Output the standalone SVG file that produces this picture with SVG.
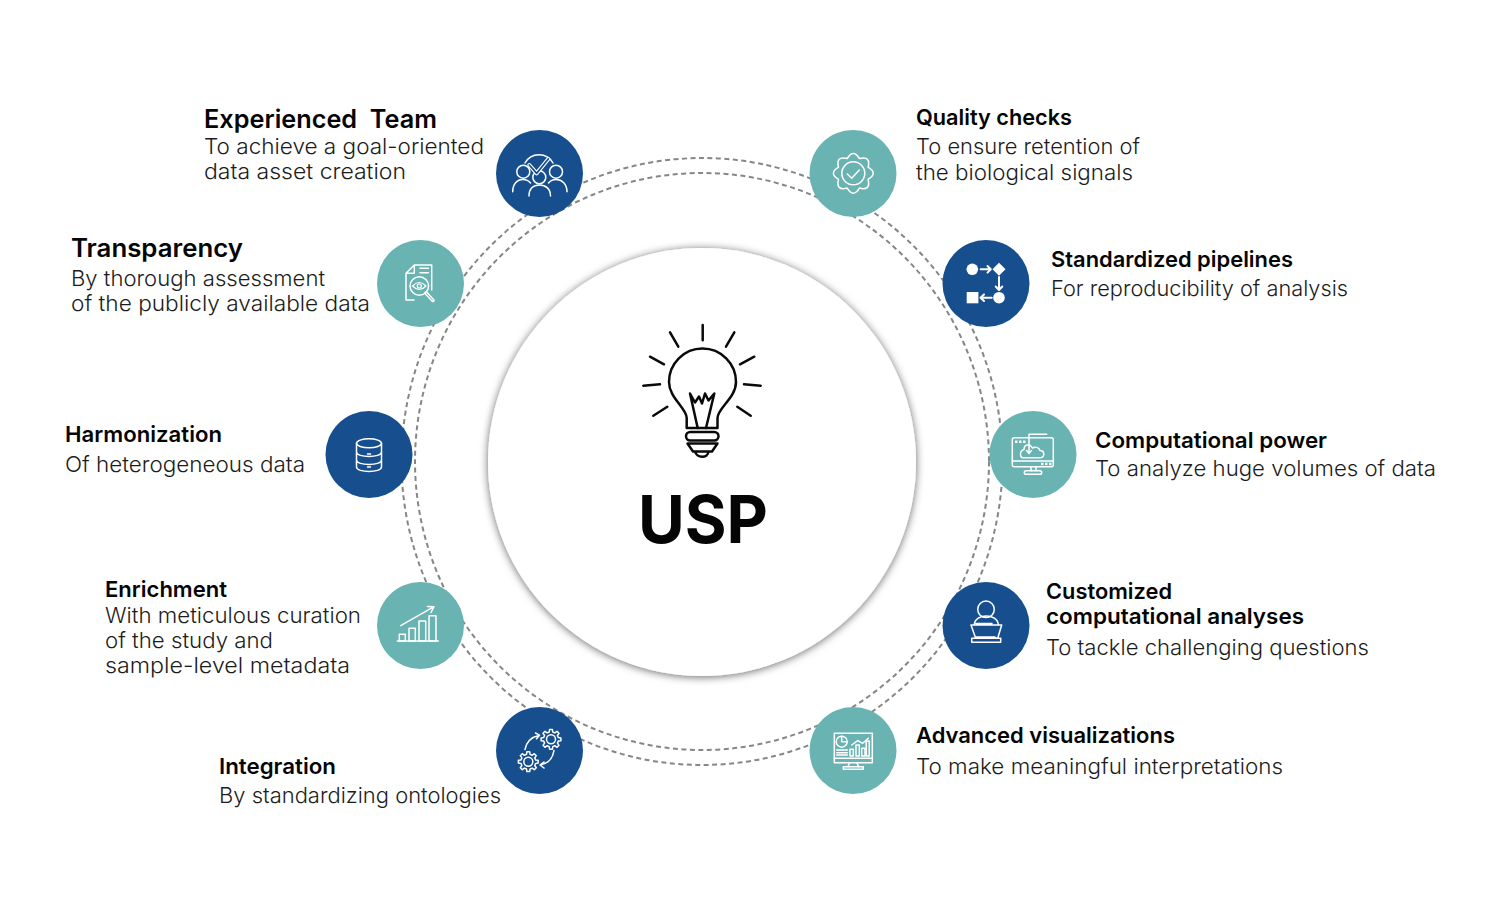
<svg xmlns="http://www.w3.org/2000/svg" width="1500" height="920" viewBox="0 0 1500 920">
<style>
.h{font-family:"Inter","Liberation Sans",sans-serif;font-weight:600;fill:#050505}
.b{font-family:"Inter","Liberation Sans",sans-serif;font-weight:300;fill:#1c1c1c;font-size:22px}
.f22{font-size:22px}.f25{font-size:25px}
.ring{fill:none;stroke:#868686;stroke-width:2;stroke-dasharray:5 3.500}
.blue{fill:#174f8e}
.teal{fill:#69b3b2}
.i{fill:none;stroke:#fff;stroke-width:1.500;stroke-linecap:round;stroke-linejoin:round}
.s{fill:#fff}
.bulb{fill:none;stroke:#0a0a0a;stroke-width:2.500;stroke-linecap:round;stroke-linejoin:round}
</style>
<defs>
<filter id="sh" x="-20%" y="-20%" width="140%" height="140%"><feDropShadow dx="0" dy="1" stdDeviation="4" flood-color="#000" flood-opacity=".6"/></filter>
<path id="gear" d="M7.28,-1.81L9.9,-1.39L9.9,1.39L7.28,1.81L6.43,3.86L7.99,6.02L6.02,7.99L3.86,6.43L1.81,7.28L1.39,9.9L-1.39,9.9L-1.81,7.28L-3.86,6.43L-6.02,7.99L-7.99,6.02L-6.43,3.86L-7.28,1.81L-9.9,1.39L-9.9,-1.39L-7.28,-1.81L-6.43,-3.86L-7.99,-6.02L-6.02,-7.99L-3.86,-6.43L-1.81,-7.28L-1.39,-9.9L1.39,-9.9L1.81,-7.28L3.86,-6.43L6.02,-7.99L7.99,-6.02L6.43,-3.86Z"/>
</defs>
<rect width="1500" height="920" fill="#fff"/>
<g id="connectors">
<ellipse class="ring" cx="702" cy="461.500" rx="300.500" ry="303.500"/>
<ellipse class="ring" cx="702" cy="461.500" rx="287" ry="288.500"/>
</g>
<g id="center">
<circle cx="702" cy="462" r="214" fill="#fff" filter="url(#sh)"/>
<g class="bulb">
<path d="M702.700,325V340.300M670,332.300L678.300,346.700M650,356.700L664,364.300M643.300,385.700L660,384.300M653.300,415.700L667.300,406.700M734.300,332.300L726,346.700M754.300,356.700L740,364.300M760.700,385.700L744,384.300M750.700,415.700L737.300,406.700"/>
<path d="M686.700,428V418C686.700,408 669,398 669,382A33.500,33.500 0 0 1 736,382C736,398 717.500,408 717.500,418V428H686.700Z"/>
<path d="M697.700,428L690,393.500L695,402.500L699,396.500L702,403.500L705,393.500L708.500,400.500L714.300,393.500L706,428"/>
<rect x="686" y="432" width="32.500" height="8.500" rx="4.200"/>
<path d="M687.500,443.500H717.500L712,451.500H693ZM695,451.500C697,458.500 708,458.500 708.500,451.500"/>
</g>
<text x="638" y="543" class="h" font-size="66" font-weight="700" style="font-weight:700" textLength="130" lengthAdjust="spacingAndGlyphs">USP</text>
</g>
<g id="experienced-team">
<circle class="blue" cx="539.500" cy="173.500" r="43.500"/>
<g class="i"><path d="M525,163A16,16 0 0 1 553,163"/><circle cx="523.300" cy="171.700" r="6.500"/><circle cx="556" cy="171.700" r="6.500"/><circle cx="539.300" cy="177.300" r="6.500"/>
<path d="M512.700,191.700C512.700,184 517,179.500 523,179.500C526,179.500 528.500,180.500 530.500,183M567,191.700C567,184 562,179.500 556,179.500C553,179.500 550.500,180.500 548.500,183M529,196C529,189 533,185 539.500,185C546,185 550.500,189 550.500,196"/>
<path d="M529.300,165L536.700,173.300L548.300,159" stroke-width="4"/><path d="M529.300,165L536.700,173.300L548.300,159" stroke="#174f8e" stroke-width="1.800"/></g>
<text x="204" y="128" class="h f25" textLength="233" lengthAdjust="spacingAndGlyphs" xml:space="preserve">Experienced  Team</text>
<text x="204" y="154" class="b" textLength="280" lengthAdjust="spacingAndGlyphs">To achieve a goal-oriented</text>
<text x="204" y="179" class="b" textLength="202" lengthAdjust="spacingAndGlyphs">data asset creation</text>
</g>
<g id="quality-checks">
<circle class="teal" cx="853" cy="173.500" r="43.500"/>
<g class="i" transform="translate(853.300,173.300)"><path d="M14.800,-6.100Q25,0 14.800,6.100Q17.700,17.700 6.100,14.800Q0,25 -6.100,14.800Q-17.700,17.700 -14.800,6.100Q-25,0 -14.800,-6.100Q-17.700,-17.700 -6.100,-14.800Q0,-25 6.100,-14.800Q17.700,-17.700 14.800,-6.100Z"/><circle r="11.500"/><path d="M-6,0.700L-1.600,5L6,-3.300"/></g>
<text x="916" y="125" class="h f22" textLength="156" lengthAdjust="spacingAndGlyphs">Quality checks</text>
<text x="916" y="154" class="b" textLength="224" lengthAdjust="spacingAndGlyphs">To ensure retention of</text>
<text x="916" y="180" class="b" textLength="217" lengthAdjust="spacingAndGlyphs">the biological signals</text>
</g>
<g id="transparency">
<circle class="teal" cx="420.500" cy="283.500" r="43.500"/>
<g class="i"><path d="M414,300H406V273.300L414.300,265H431.700V290M406,273.300H414.300V265M420,268.300H428.300M420,272.700H428.300"/><circle cx="419.300" cy="286" r="9.300"/><path d="M412.500,286Q419.300,279 426,286Q419.300,293 412.500,286Z" stroke-width="1.200"/><circle cx="419.300" cy="286" r="2" stroke-width="1.200"/><path d="M426,293L433,300.500" stroke-width="3.500"/><path d="M426.500,293.500L432.500,300" stroke="#69b3b2" stroke-width="1"/></g>
<text x="71" y="257" class="h f25" textLength="172" lengthAdjust="spacingAndGlyphs">Transparency</text>
<text x="71" y="286" class="b" textLength="254" lengthAdjust="spacingAndGlyphs">By thorough assessment</text>
<text x="71" y="311" class="b" textLength="299" lengthAdjust="spacingAndGlyphs">of the publicly available data</text>
</g>
<g id="standardized-pipelines">
<circle class="blue" cx="986" cy="283.500" r="43.500"/>
<circle class="s" cx="972.300" cy="269.300" r="5.800"/>
<path class="s" d="M999,262.800L1005.500,269.300L999,275.800L992.500,269.300Z"/>
<rect class="s" x="966.700" y="292" width="11.700" height="11.300"/>
<circle class="s" cx="999" cy="297.700" r="5.800"/>
<path class="i" style="stroke-width:2" d="M980.700,269.300H990.500M987.500,266L990.800,269.300L987.500,272.600M999,277V289.500M995.700,286.500L999,290L1002.300,286.500M991.700,297.700H980.500M984,294.400L980.500,297.700L984,301"/>
<text x="1051" y="267" class="h f22" textLength="242" lengthAdjust="spacingAndGlyphs">Standardized pipelines</text>
<text x="1051" y="296" class="b" textLength="297" lengthAdjust="spacingAndGlyphs">For reproducibility of analysis</text>
</g>
<g id="harmonization">
<circle class="blue" cx="369" cy="454.500" r="43.500"/>
<g class="i"><ellipse cx="369" cy="443.300" rx="12.500" ry="4.500"/><path d="M356.500,443.300V467C356.500,473 381.500,473 381.500,467V443.300M356.500,452C356.500,458 381.500,458 381.500,452M356.500,460C356.500,466 381.500,466 381.500,460M367.500,454H370.500M367.500,467H370.500"/></g>
<text x="65" y="442" class="h f22" textLength="157" lengthAdjust="spacingAndGlyphs">Harmonization</text>
<text x="65" y="472" class="b" textLength="240" lengthAdjust="spacingAndGlyphs">Of heterogeneous data</text>
</g>
<g id="computational-power">
<circle class="teal" cx="1033" cy="454.500" r="43.500"/>
<g class="i" stroke-width="1.200"><rect x="1012.300" y="437.700" width="41" height="29" rx="2"/><path d="M1012.300,461H1053.300M1031,466.700V470.700M1036,466.700V470.700"/><rect x="1024.300" y="470.700" width="17.400" height="3.600" rx="1.800"/><path d="M1023,457.700H1040.500C1045,457.700 1045,450.500 1040,450.500C1039,447 1035,446.500 1032.500,448C1030,443.500 1024,444 1024,449.500C1019.500,450.500 1019.500,457.700 1023,457.700Z"/><path d="M1046.700,434.300H1029V453M1026.500,450.500L1029,453.500L1031.500,450.500"/></g>
<g class="s"><rect x="1015" y="440.500" width="2.500" height="2.500"/><rect x="1019" y="440.500" width="2.500" height="2.500"/><rect x="1023" y="440.500" width="2.500" height="2.500"/><rect x="1041" y="462.700" width="2.500" height="2.500"/><rect x="1045" y="462.700" width="2.500" height="2.500"/><rect x="1049" y="462.700" width="2.500" height="2.500"/></g>
<text x="1095" y="448" class="h f22" textLength="232" lengthAdjust="spacingAndGlyphs">Computational power</text>
<text x="1095" y="476" class="b" textLength="341" lengthAdjust="spacingAndGlyphs">To analyze huge volumes of data</text>
</g>
<g id="enrichment">
<circle class="teal" cx="420.500" cy="625.500" r="43.500"/>
<g class="i"><path d="M397.300,641H438.300"/><rect x="399.300" y="634.300" width="6" height="6.700"/><rect x="409" y="628.300" width="6.300" height="12.700"/><rect x="419" y="621" width="6.700" height="20"/><rect x="429" y="615.700" width="7" height="25.300"/><path d="M400.700,625.700L434,606.700M427.500,606.500L434,606.700L431,612.500"/></g>
<text x="105" y="597" class="h f22" textLength="122" lengthAdjust="spacingAndGlyphs">Enrichment</text>
<text x="105" y="623" class="b" textLength="256" lengthAdjust="spacingAndGlyphs">With meticulous curation</text>
<text x="105" y="648" class="b" textLength="168" lengthAdjust="spacingAndGlyphs">of the study and</text>
<text x="105" y="673" class="b" textLength="245" lengthAdjust="spacingAndGlyphs">sample-level metadata</text>
</g>
<g id="customized-analyses">
<circle class="blue" cx="986" cy="625.500" r="43.500"/>
<g class="i"><circle cx="986" cy="609.300" r="8.300"/><path d="M974.300,624.500C975,613 997.500,613 998.300,624.500M971,625H1001.700L997.700,638.300H975.700ZM976,623.500H992M976,637H995"/><rect x="971.700" y="638.300" width="29" height="4"/></g>
<text x="1046" y="599" class="h f22" textLength="126" lengthAdjust="spacingAndGlyphs">Customized</text>
<text x="1046" y="624" class="h f22" textLength="258" lengthAdjust="spacingAndGlyphs">computational analyses</text>
<text x="1046" y="655" class="b" textLength="323" lengthAdjust="spacingAndGlyphs">To tackle challenging questions</text>
</g>
<g id="integration">
<circle class="blue" cx="539.500" cy="750.500" r="43.500"/>
<g class="i" stroke-width="1.200"><use href="#gear" x="551" y="739.300"/><circle cx="551" cy="739.300" r="4.500"/><use href="#gear" x="528.300" y="761.700"/><circle cx="528.300" cy="761.700" r="4.500"/><path d="M525,749.500Q527,738 539.500,735.200M535.500,733L539.500,735.200L536.500,738.800M554,750.500Q552,763 540,765M544,762L540,765L544,768"/></g>
<text x="219" y="774" class="h f22" textLength="117" lengthAdjust="spacingAndGlyphs">Integration</text>
<text x="219" y="803" class="b" textLength="282" lengthAdjust="spacingAndGlyphs">By standardizing ontologies</text>
</g>
<g id="advanced-visualizations">
<circle class="teal" cx="853" cy="750.500" r="43.500"/>
<g class="i" stroke-width="1.200"><rect x="834.300" y="733.300" width="38" height="29.400"/><path d="M834.300,758.300H872.300M849.500,762.700L848,766.700M857,762.700L858.500,766.700"/><rect x="843.300" y="766.700" width="20" height="2.600"/><circle cx="841.700" cy="741.700" r="5.500"/><path d="M841.700,736.200V741.700H847.200M836.700,750H847.300M836.700,752.700H847.300M836.700,755H847.300M851.700,745L857.700,740.700L862.700,743.300L868.300,738.300"/><rect x="850" y="749.300" width="3.300" height="6.700"/><rect x="856" y="745" width="3.300" height="11"/><rect x="861.700" y="748.300" width="3.300" height="7.700"/><rect x="866.200" y="741" width="3" height="15"/></g>
<text x="916" y="743" class="h f22" textLength="259" lengthAdjust="spacingAndGlyphs">Advanced visualizations</text>
<text x="916" y="774" class="b" textLength="367" lengthAdjust="spacingAndGlyphs">To make meaningful interpretations</text>
</g>
</svg>
